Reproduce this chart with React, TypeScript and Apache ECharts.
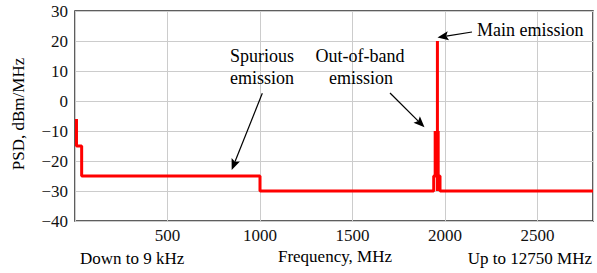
import React, { useEffect, useRef } from 'react';
import * as echarts from 'echarts';

// Data: red PSD envelope
const freqMHz = [8, 8, 36, 36, 1000, 1000, 1939, 1939, 1959, 1959, 1959, 1959, 1973, 1973, 2800];
const psdDbm = [-6, -15, -15, -25, -25, -30, -30, -25, -25, 20, -30, -25, -25, -30, -30];
// Out-of-band emission block
const oobFreqMHz = [1955, 1955];
const oobPsdDbm = [-10, -25];
const xMin = 0;
const xMax = 2800;
const xStep = 500;
const yMin = -40;
const yMax = 30;
const yStep = 10;
const yAxisTitle = 'PSD, dBm/MHz';
const xAxisTitle = 'Frequency, MHz';
const leftNote = 'Down to 9 kHz';
const rightNote = 'Up to 12750 MHz';

const FONT = 'Liberation Serif';

function arrow(x1: number, y1: number, x2: number, y2: number, len = 11, half = 4.5) {
  const dx = x2 - x1, dy = y2 - y1;
  const L = Math.sqrt(dx * dx + dy * dy);
  const ux = dx / L, uy = dy / L;
  const bx = x2 - ux * len, by = y2 - uy * len;
  const px = -uy, py = ux;
  const nx = x2 - ux * len * 0.8, ny = y2 - uy * len * 0.8;
  return [
    { type: 'line', shape: { x1, y1, x2: nx, y2: ny }, style: { stroke: '#000', lineWidth: 1.2 }, z: 10 },
    {
      type: 'polygon',
      shape: { points: [[x2, y2], [bx + px * half, by + py * half], [nx, ny], [bx - px * half, by - py * half]] },
      style: { fill: '#000' },
      z: 10,
    },
  ];
}

function txt(text: string, x: number, y: number, size: number, align: string) {
  return {
    type: 'text',
    x,
    y,
    z: 10,
    style: { text, fontSize: size, fontFamily: FONT, fill: '#000', align, verticalAlign: 'middle' },
  };
}

export default function App() {
  const ref = useRef<HTMLDivElement>(null);
  useEffect(() => {
    document.body.style.margin = '0';
    const chart = echarts.init(ref.current!, null, { renderer: 'svg' });
    const data = freqMHz.map((f, i) => [f, psdDbm[i]]);
    const oob = oobFreqMHz.map((f, i) => [f, oobPsdDbm[i]]);
    chart.setOption({
      animation: false,
      textStyle: { fontFamily: FONT },
      grid: {
        left: 75, top: 11, width: 518, height: 210,
        show: true, borderColor: '#2a2a2a', borderWidth: 1.5, backgroundColor: 'transparent',
      },
      xAxis: {
        type: 'value', min: xMin, max: xMax, interval: xStep,
        axisLine: { show: false }, axisTick: { show: false },
        splitLine: { show: true, lineStyle: { color: '#cccccc', width: 1 } },
        axisLabel: {
          margin: 6, fontSize: 17, fontFamily: FONT, color: '#111',
          showMinLabel: false, showMaxLabel: false,
          formatter: (v: number) => (v === xMin || v === xMax ? '' : String(v)),
        },
      },
      yAxis: {
        type: 'value', min: yMin, max: yMax, interval: yStep,
        axisLine: { show: false }, axisTick: { show: false },
        splitLine: { show: true, lineStyle: { color: '#cccccc', width: 1 } },
        axisLabel: {
          margin: 7, fontSize: 17, fontFamily: FONT, color: '#111',
          formatter: (v: number) => (v < 0 ? '\u2212' + Math.abs(v) : String(v)),
        },
      },
      series: [
        {
          type: 'line', data, showSymbol: false, symbol: 'none', clip: false,
          lineStyle: { color: '#ff0000', width: 3 },
          z: 5,
        },
        {
          type: 'line', data: oob, showSymbol: false, symbol: 'none', clip: false,
          lineStyle: { color: '#ff0000', width: 6 },
          z: 5,
        },
      ],
      graphic: [
        {
          type: 'text', x: 18, y: 114, rotation: Math.PI / 2, z: 10,
          style: { text: yAxisTitle, fontSize: 17, fontFamily: FONT, fill: '#000', align: 'center', verticalAlign: 'middle' },
        },
        txt(leftNote, 80, 258, 17, 'left'),
        txt(xAxisTitle, 335, 256, 17, 'center'),
        txt(rightNote, 592, 258, 17, 'right'),
        txt('Main emission', 477, 30, 18, 'left'),
        txt('Out-of-band', 360, 56, 18, 'center'),
        txt('emission', 361, 78, 18, 'center'),
        txt('Spurious', 262, 56, 18, 'center'),
        txt('emission', 262, 78, 18, 'center'),
        ...arrow(472, 32, 437.5, 37.5),
        ...arrow(390, 93, 424.5, 127.3),
        ...arrow(262.3, 93.3, 231.7, 170),
      ],
    });
    return () => chart.dispose();
  }, []);
  return <div ref={ref} style={{ width: 597, height: 273 }} />;
}
